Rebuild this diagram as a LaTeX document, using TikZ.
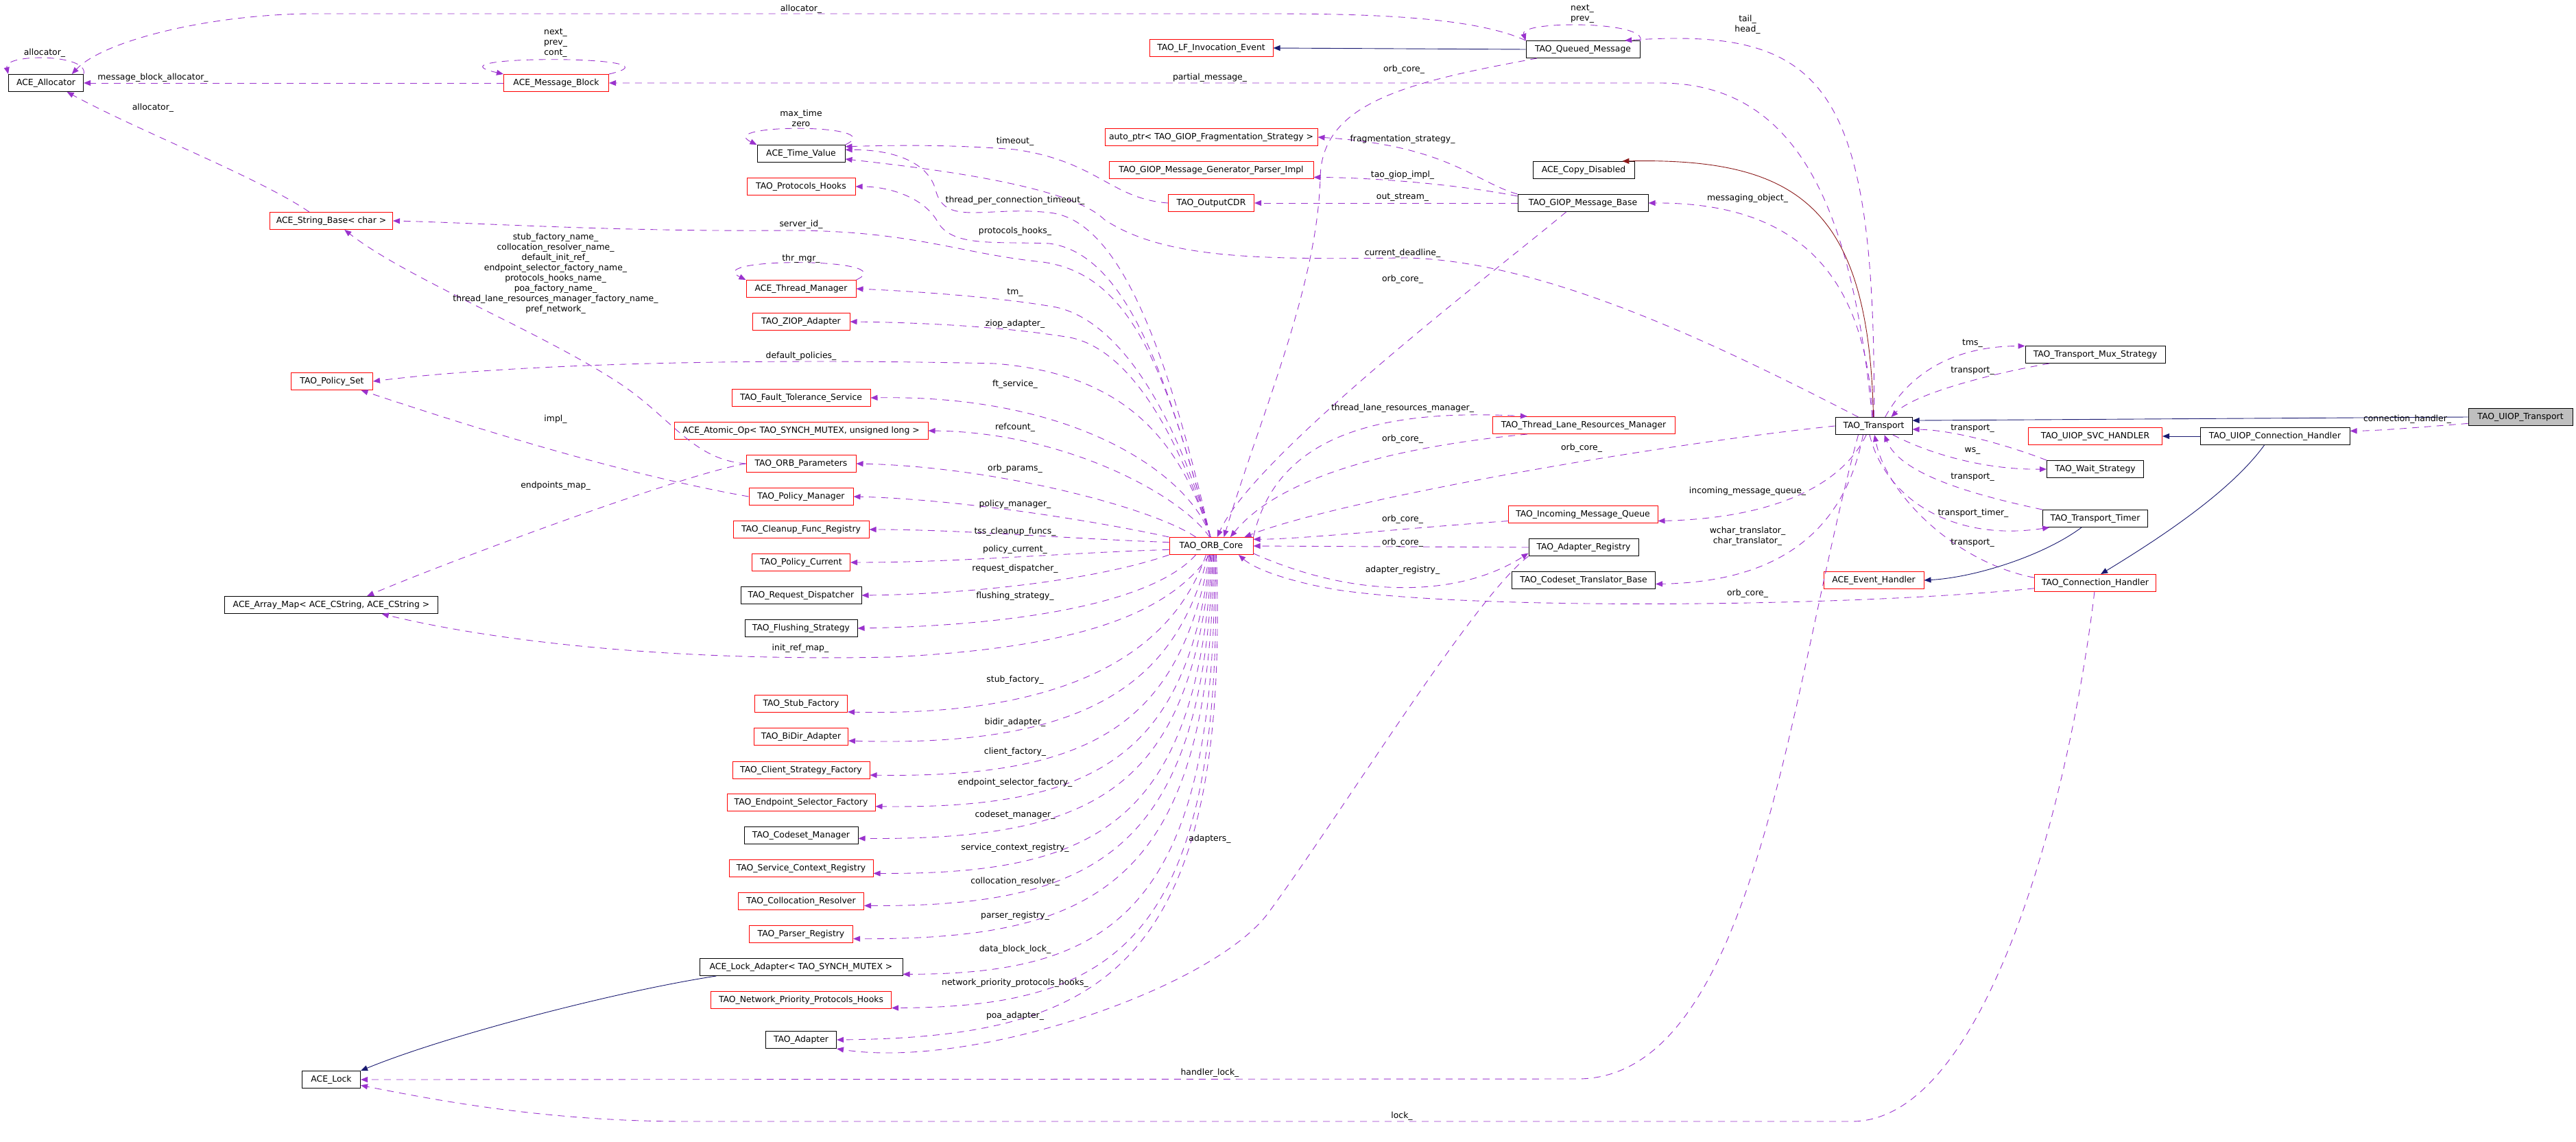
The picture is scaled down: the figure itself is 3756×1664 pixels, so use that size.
\documentclass[tikz,border=0pt]{standalone}
\usepackage{fontspec}
\setmainfont{DejaVu Sans}
\usepackage{tikz}
\usetikzlibrary{arrows.meta}

\definecolor{usecol}{HTML}{9A32CD}
\definecolor{inhcol}{HTML}{191970}
\definecolor{tplcol}{HTML}{8B1A1A}
\definecolor{boxgray}{HTML}{BFBFBF}

\tikzset{
  cls/.style={draw=black, line width=0.5pt, rectangle, inner sep=1pt, minimum height=12.5pt, font=\fontsize{6.2}{7.5}\selectfont},
  clsred/.style={cls, draw=red},
  clsgray/.style={cls, fill=boxgray},
  lbl/.style={font=\fontsize{6.2}{7.5}\selectfont, align=center, inner sep=0pt},
  usearrow/.style={draw=usecol, line width=0.45pt, dash pattern=on 5pt off 4pt, -{Triangle[length=5pt,width=4pt]}},
  inharrow/.style={draw=inhcol, line width=0.45pt, -{Triangle[length=5pt,width=4pt]}},
  tplarrow/.style={draw=tplcol, line width=0.45pt, -{Triangle[length=5pt,width=4pt]}}
}

\begin{document}
\begin{tikzpicture}[x=0.5pt,y=0.5pt,yscale=-1,xscale=1]
\useasboundingbox (0,0) rectangle (3756,1664);

%Classes, left column
\node[cls, minimum width=54.5pt] (alloc) at (67,121) {ACE\_Allocator};
\node[clsred, minimum width=76.5pt] (msgblk) at (811,121) {ACE\_Message\_Block};
\node[clsred, minimum width=89.5pt] (strbase) at (483,322) {ACE\_String\_Base< char >};
\node[clsred, minimum width=59.5pt] (polset) at (484,556) {TAO\_Policy\_Set};
\node[cls, minimum width=155.5pt] (arrmap) at (483,882) {ACE\_Array\_Map< ACE\_CString, ACE\_CString >};
\node[cls, minimum width=42.5pt] (lock) at (483,1574) {ACE\_Lock};

%Classes used by TAO_ORB_Core
\node[cls, minimum width=64pt] (timeval) at (1168,224) {ACE\_Time\_Value};
\node[clsred, minimum width=79pt] (prothooks) at (1168,272) {TAO\_Protocols\_Hooks};
\node[clsred, minimum width=80pt] (thrmgr) at (1168,421) {ACE\_Thread\_Manager};
\node[clsred, minimum width=71pt] (ziop) at (1168,469) {TAO\_ZIOP\_Adapter};
\node[clsred, minimum width=101pt] (ftserv) at (1168,580) {TAO\_Fault\_Tolerance\_Service};
\node[clsred, minimum width=185pt] (atomic) at (1168,628) {ACE\_Atomic\_Op< TAO\_SYNCH\_MUTEX, unsigned long >};
\node[clsred, minimum width=80pt] (orbparams) at (1168,676) {TAO\_ORB\_Parameters};
\node[clsred, minimum width=76pt] (polmgr) at (1168,724) {TAO\_Policy\_Manager};
\node[clsred, minimum width=99pt] (cleanup) at (1168,772) {TAO\_Cleanup\_Func\_Registry};
\node[clsred, minimum width=71.5pt] (polcur) at (1168,820) {TAO\_Policy\_Current};
\node[cls, minimum width=88pt] (reqdisp) at (1168,868) {TAO\_Request\_Dispatcher};
\node[cls, minimum width=82pt] (flush) at (1168,916) {TAO\_Flushing\_Strategy};
\node[clsred, minimum width=67.5pt] (stubfac) at (1168,1026) {TAO\_Stub\_Factory};
\node[clsred, minimum width=68.5pt] (bidir) at (1168,1074) {TAO\_BiDir\_Adapter};
\node[clsred, minimum width=100pt] (clifac) at (1168,1123) {TAO\_Client\_Strategy\_Factory};
\node[clsred, minimum width=108pt] (endsel) at (1168,1170) {TAO\_Endpoint\_Selector\_Factory};
\node[cls, minimum width=83pt] (codeset) at (1168,1218) {TAO\_Codeset\_Manager};
\node[clsred, minimum width=105pt] (svcctx) at (1168,1266) {TAO\_Service\_Context\_Registry};
\node[clsred, minimum width=91.5pt] (colloc) at (1168,1314) {TAO\_Collocation\_Resolver};
\node[clsred, minimum width=75.5pt] (parser) at (1168,1362) {TAO\_Parser\_Registry};
\node[cls, minimum width=148pt] (lockadp) at (1168,1410) {ACE\_Lock\_Adapter< TAO\_SYNCH\_MUTEX >};
\node[clsred, minimum width=131.5pt] (nethooks) at (1168,1458) {TAO\_Network\_Priority\_Protocols\_Hooks};
\node[cls, minimum width=51.5pt] (adapter) at (1168,1516) {TAO\_Adapter};

%Middle column
\node[clsred, minimum width=90pt] (lfevent) at (1766,70) {TAO\_LF\_Invocation\_Event};
\node[clsred, minimum width=155pt] (autoptr) at (1766,200) {auto\_ptr< TAO\_GIOP\_Fragmentation\_Strategy >};
\node[clsred, minimum width=149pt] (genparser) at (1766,248) {TAO\_GIOP\_Message\_Generator\_Parser\_Impl};
\node[clsred, minimum width=62.5pt] (outcdr) at (1766,296) {TAO\_OutputCDR};
\node[clsred, minimum width=61pt] (orbcore) at (1766,796) {TAO\_ORB\_Core};

\node[cls, minimum width=83pt] (queued) at (2308,72) {TAO\_Queued\_Message};
\node[cls, minimum width=74pt] (copydis) at (2309,248) {ACE\_Copy\_Disabled};
\node[cls, minimum width=95pt] (giopbase) at (2308,296) {TAO\_GIOP\_Message\_Base};
\node[clsred, minimum width=133pt] (tlrm) at (2309,620) {TAO\_Thread\_Lane\_Resources\_Manager};
\node[clsred, minimum width=109pt] (inmsgq) at (2308,750) {TAO\_Incoming\_Message\_Queue};
\node[cls, minimum width=80pt] (adpreg) at (2309,798) {TAO\_Adapter\_Registry};
\node[cls, minimum width=104.5pt] (cstrans) at (2309,846) {TAO\_Codeset\_Translator\_Base};

%Transport side
\node[cls, minimum width=56pt] (transport) at (2732,621) {TAO\_Transport};
\node[clsred, minimum width=73pt] (evhandler) at (2732,846) {ACE\_Event\_Handler};
\node[cls, minimum width=102pt] (muxstrat) at (3055,517) {TAO\_Transport\_Mux\_Strategy};
\node[clsred, minimum width=97.5pt] (svchandler) at (3055,636) {TAO\_UIOP\_SVC\_HANDLER};
\node[cls, minimum width=70.5pt] (waitstrat) at (3055,684) {TAO\_Wait\_Strategy};
\node[cls, minimum width=76.5pt] (ttimer) at (3055,756) {TAO\_Transport\_Timer};
\node[clsred, minimum width=88.5pt] (connhandler) at (3055,850) {TAO\_Connection\_Handler};
\node[cls, minimum width=109pt] (uiopch) at (3317,636) {TAO\_UIOP\_Connection\_Handler};
\node[clsgray, minimum width=76pt] (uioptr) at (3675,608) {TAO\_UIOP\_Transport};

%Self loops
\draw[usearrow] (alloc.north east) .. controls (130,78) and (5,78) .. (alloc.north west);
\draw[usearrow] (msgblk.north east) .. controls (1010,80) and (610,80) .. (msgblk.north west);
\draw[usearrow] (timeval.north east) .. controls (1300,180) and (1040,180) .. (timeval.north west);
\draw[usearrow] (thrmgr.north east) .. controls (1320,375) and (1020,375) .. (thrmgr.north west);
\draw[usearrow] (queued.8) .. controls (2405,30) and (2215,30) .. (queued.north west);

%Edges into the left column
\draw[usearrow] (msgblk.west) -- (alloc.east);
\draw[usearrow] (strbase.158) .. controls (380,260) and (200,190) .. (alloc.-23);
\draw[usearrow] (queued.north west) .. controls (2150,25) and (2000,20) .. (1850,20) -- (450,20) .. controls (300,22) and (150,60) .. (alloc.19);
\draw[usearrow] (transport.100) .. controls (2700,300) and (2620,121) .. (2420,121) -- (msgblk.east);
\draw[usearrow] (orbparams.west) .. controls (1010,670) and (980,610) .. (905,560) .. controls (792,485) and (593,406) .. (strbase.-34);
\draw[usearrow] (orbcore.95) .. controls (1700,540) and (1650,400) .. (1520,382) .. controls (1400,370) and (1330,336) .. (1150,336) .. controls (900,338) and (700,325) .. (strbase.east);
\draw[usearrow] (orbcore.95) .. controls (1720,640) and (1640,545) .. (1450,530) .. controls (1100,522) and (750,530) .. (polset.east);
\draw[usearrow] (polmgr.west) .. controls (900,690) and (680,620) .. (polset.-17);
\draw[usearrow] (orbparams.west) .. controls (1000,690) and (650,820) .. (arrmap.14);
\draw[usearrow] (orbcore.-100) .. controls (1700,900) and (1560,945) .. (1300,958) .. controls (950,965) and (700,930) .. (arrmap.-10);
\draw[inharrow] (lockadp.-174) .. controls (900,1445) and (650,1510) .. (lock.north east);
\draw[usearrow] (transport.-150) .. controls (2610,1000) and (2560,1573) .. (2300,1573) -- (lock.east);
\draw[usearrow] (connhandler.-95) .. controls (3020,1150) and (2900,1635) .. (2700,1635) -- (1000,1635) .. controls (800,1635) and (640,1605) .. (lock.-11);

%Edges from TAO_ORB_Core, upper fan
\draw[usearrow] (outcdr.west) .. controls (1620,290) and (1600,235) .. (1480,218) .. controls (1380,210) and (1290,212) .. (timeval.9);
\draw[usearrow] (orbcore.95) .. controls (1700,500) and (1630,320) .. (1530,310) .. controls (1440,300) and (1380,330) .. (1365,280) .. controls (1355,235) and (1300,218) .. (timeval.5);
\draw[usearrow] (transport.150) .. controls (2500,500) and (2250,380) .. (2050,376) .. controls (1850,378) and (1700,380) .. (1610,320) .. controls (1560,270) and (1350,245) .. (timeval.-7);
\draw[usearrow] (orbcore.95) .. controls (1700,540) and (1640,370) .. (1530,355) .. controls (1450,352) and (1390,360) .. (1368,325) .. controls (1350,290) and (1300,272) .. (prothooks.east);
\draw[usearrow] (orbcore.95) .. controls (1720,620) and (1640,470) .. (1540,448) .. controls (1450,432) and (1320,424) .. (thrmgr.east);
\draw[usearrow] (orbcore.95) .. controls (1720,640) and (1650,510) .. (1560,492) .. controls (1450,474) and (1320,470) .. (ziop.east);
\draw[usearrow] (orbcore.95) .. controls (1740,700) and (1580,575) .. (ftserv.east);
\draw[usearrow] (orbcore.100) .. controls (1720,720) and (1550,630) .. (atomic.east);
\draw[usearrow] (orbcore.150) .. controls (1680,740) and (1450,680) .. (orbparams.east);
\draw[usearrow] (orbcore.north west) .. controls (1600,760) and (1400,728) .. (polmgr.east);
\draw[usearrow] (orbcore.175) .. controls (1550,785) and (1400,772) .. (cleanup.east);
\draw[usearrow] (orbcore.-175) .. controls (1550,806) and (1400,820) .. (polcur.east);
\draw[usearrow] (orbcore.south west) .. controls (1600,845) and (1420,866) .. (reqdisp.east);
\draw[usearrow] (orbcore.-150) .. controls (1680,880) and (1480,912) .. (flush.east);

%Edges from TAO_ORB_Core, lower fan
\draw[usearrow] (orbcore.-120) .. controls (1710,950) and (1560,1045) .. (stubfac.-10);
\draw[usearrow] (orbcore.-110) .. controls (1715,1000) and (1580,1090) .. (bidir.-5);
\draw[usearrow] (orbcore.-100) .. controls (1720,1050) and (1600,1135) .. (clifac.-4);
\draw[usearrow] (orbcore.-95) .. controls (1730,1100) and (1600,1180) .. (endsel.-3);
\draw[usearrow] (orbcore.-90) .. controls (1735,1150) and (1600,1225) .. (codeset.-3);
\draw[usearrow] (orbcore.-85) .. controls (1745,1200) and (1600,1275) .. (svcctx.-4);
\draw[usearrow] (orbcore.-80) .. controls (1755,1240) and (1600,1322) .. (colloc.-4);
\draw[usearrow] (orbcore.-75) .. controls (1765,1290) and (1600,1370) .. (parser.-5);
\draw[usearrow] (orbcore.-70) .. controls (1775,1330) and (1620,1420) .. (lockadp.-4);
\draw[usearrow] (orbcore.-65) .. controls (1785,1380) and (1620,1468) .. (nethooks.-5);
\draw[usearrow] (orbcore.-60) .. controls (1795,1420) and (1600,1512) .. (adapter.east);
\draw[usearrow] (adpreg.south west) .. controls (2150,870) and (1960,1180) .. (1850,1330) .. controls (1770,1440) and (1420,1560) .. (adapter.south east);

%Edges round the GIOP classes
\draw[inharrow] (queued.west) -- (lfevent.east);
\draw[usearrow] (transport.88) .. controls (2735,120) and (2660,40) .. (queued.12);
\draw[usearrow] (queued.-169) .. controls (2050,120) and (1926,150) .. (1925,260) .. controls (1920,420) and (1840,600) .. (orbcore.35);
\draw[usearrow] (giopbase.north west) .. controls (2150,265) and (2110,212) .. (autoptr.east);
\draw[usearrow] (giopbase.174) .. controls (2120,268) and (2000,259) .. (genparser.-4);
\draw[usearrow] (giopbase.west) -- (outcdr.east);
\draw[usearrow] (giopbase.-152) .. controls (2200,380) and (1830,660) .. (orbcore.56);
\draw[usearrow] (transport.95) .. controls (2720,420) and (2640,295) .. (giopbase.east);
\draw[tplarrow] (transport.92) .. controls (2725,300) and (2620,230) .. (copydis.13);

%Edges round TAO_ORB_Core, right side
\draw[usearrow] (orbcore.north east) .. controls (1860,640) and (2000,595) .. (tlrm.171);
\draw[usearrow] (tlrm.-171) .. controls (2050,650) and (1870,690) .. (orbcore.25);
\draw[usearrow] (transport.west) .. controls (2400,650) and (1950,730) .. (orbcore.15);
\draw[usearrow] (inmsgq.-175) .. controls (2050,770) and (1900,786) .. (orbcore.9);
\draw[usearrow] (adpreg.west) -- (orbcore.east);
\draw[usearrow] (orbcore.-10) .. controls (1980,875) and (2130,870) .. (adpreg.-174);
\draw[usearrow] (connhandler.-175) .. controls (2700,885) and (2150,890) .. (1950,860) .. controls (1880,848) and (1830,830) .. (orbcore.-18);
\draw[usearrow] (transport.-130) .. controls (2690,700) and (2600,755) .. (inmsgq.-5);
\draw[usearrow] (transport.-140) .. controls (2690,770) and (2600,848) .. (cstrans.-3);

%Edges round TAO_Transport
\draw[usearrow] (transport.38) .. controls (2775,560) and (2830,505) .. (muxstrat.173);
\draw[usearrow] (muxstrat.-169) .. controls (2900,545) and (2790,575) .. (transport.27);
\draw[inharrow] (uioptr.west) -- (transport.8);
\draw[usearrow] (uioptr.-173) .. controls (3540,622) and (3470,628) .. (uiopch.4);
\draw[inharrow] (uiopch.west) -- (svchandler.east);
\draw[inharrow] (uiopch.-140) .. controls (3250,720) and (3140,790) .. (connhandler.58);
\draw[usearrow] (waitstrat.north west) .. controls (2930,650) and (2850,627) .. (transport.-5);
\draw[usearrow] (transport.-25) .. controls (2820,665) and (2900,685) .. (waitstrat.west);
\draw[usearrow] (ttimer.north west) .. controls (2870,720) and (2770,690) .. (transport.-40);
\draw[usearrow] (transport.-115) .. controls (2750,730) and (2850,790) .. (ttimer.-169);
\draw[usearrow] (connhandler.175) .. controls (2850,820) and (2750,720) .. (transport.-85);
\draw[inharrow] (ttimer.-147) .. controls (2980,810) and (2880,842) .. (evhandler.east);

%Edge labels
\foreach \px/\py/\txt [count=\i] in {
  65/77/allocator\_, 223/113/message\_block\_allocator\_, 223/157/allocator\_,
  810/63/{next\_\\prev\_\\cont\_}, 1168/13/allocator\_, 1764/113/partial\_message\_,
  1168/172/{max\_time\\zero}, 1480/206/timeout\_, 1480/292/thread\_per\_connection\_timeout\_,
  1168/327/server\_id\_, 1480/337/protocols\_hooks\_, 1168/377/thr\_mgr\_,
  1480/427/tm\_, 1480/472/ziop\_adapter\_, 1168/519/default\_policies\_,
  1480/560/ft\_service\_, 1480/623/refcount\_, 1480/683/orb\_params\_,
  1480/735/policy\_manager\_, 1480/775/tss\_cleanup\_funcs\_, 1480/801/policy\_current\_,
  1480/829/request\_dispatcher\_, 1480/869/flushing\_strategy\_, 1167/945/init\_ref\_map\_,
  1480/991/stub\_factory\_, 1480/1053/bidir\_adapter\_, 1480/1096/client\_factory\_,
  1480/1141/endpoint\_selector\_factory\_, 1480/1188/codeset\_manager\_,
  1480/1236/service\_context\_registry\_, 1480/1285/collocation\_resolver\_,
  1480/1335/parser\_registry\_, 1480/1384/data\_block\_lock\_,
  1480/1433/network\_priority\_protocols\_hooks\_, 1480/1481/poa\_adapter\_,
  1764/1223/adapters\_, 1764/1564/handler\_lock\_, 2044/1627/lock\_,
  810/399/{stub\_factory\_name\_\\collocation\_resolver\_name\_\\default\_init\_ref\_\\endpoint\_selector\_factory\_name\_\\protocols\_hooks\_name\_\\poa\_factory\_name\_\\thread\_lane\_resources\_manager\_factory\_name\_\\pref\_network\_},
  810/611/impl\_, 810/708/endpoints\_map\_, 2307/20/{next\_\\prev\_}, 2548/36/{tail\_\\head\_},
  2047/101/orb\_core\_, 2045/203/fragmentation\_strategy\_, 2045/255/tao\_giop\_impl\_,
  2045/288/out\_stream\_, 2548/289/messaging\_object\_, 2045/369/current\_deadline\_,
  2045/407/orb\_core\_, 2045/595/thread\_lane\_resources\_manager\_, 2045/640/orb\_core\_,
  2306/653/orb\_core\_, 2548/716/incoming\_message\_queue\_, 2045/757/orb\_core\_,
  2045/791/orb\_core\_, 2548/782/{wchar\_translator\_\\char\_translator\_},
  2045/831/adapter\_registry\_, 2548/865/orb\_core\_, 2876/501/tms\_, 2876/541/transport\_,
  3510/611/connection\_handler\_, 2876/625/transport\_, 2876/657/ws\_, 2876/696/transport\_,
  2877/748/transport\_timer\_, 2876/792/transport\_}
  \node[lbl] (lab\i) at (\px,\py) {\txt};
\end{tikzpicture}
\end{document}
